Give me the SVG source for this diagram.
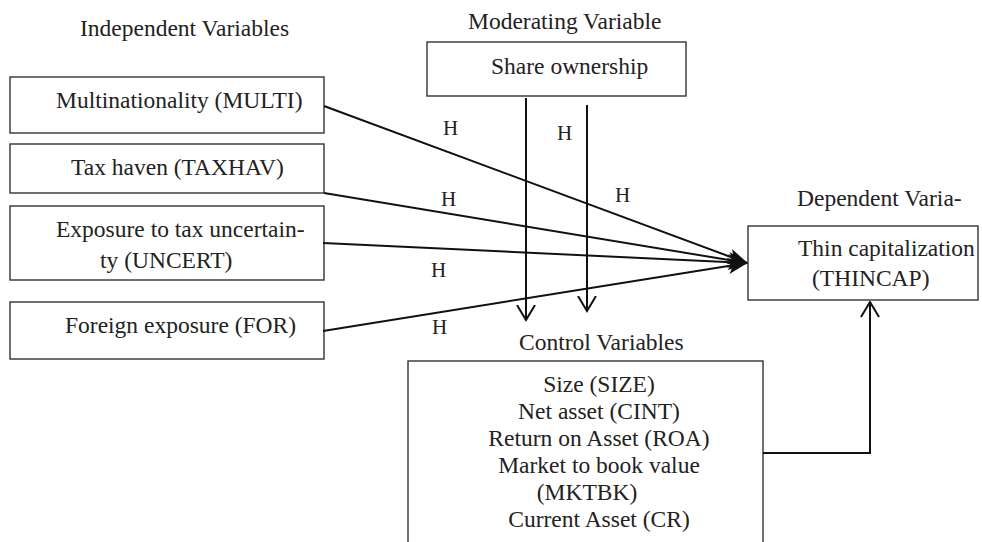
<svg xmlns="http://www.w3.org/2000/svg" width="982" height="542" viewBox="0 0 982 542">
<style>
text{font-family:"Liberation Serif",serif;font-size:23.5px;fill:#222}
.h{font-size:21px}
.box{fill:#fff;stroke:#333;stroke-width:1.4}
.c{fill:none;stroke:#111;stroke-width:2}
.m{text-anchor:middle}
</style>
<defs>
<marker id="fill" viewBox="0 0 20 18" refX="19" refY="9" markerWidth="20" markerHeight="18" markerUnits="userSpaceOnUse" orient="auto">
<path d="M0,1 L20,9 L0,17 L5,9 z" fill="#111"/>
</marker>
<marker id="open" viewBox="0 0 17 20" refX="15.5" refY="10" markerWidth="17" markerHeight="20" markerUnits="userSpaceOnUse" orient="auto">
<path d="M0.5,1 L15.5,10 L0.5,19" fill="none" stroke="#111" stroke-width="2"/>
</marker>
</defs>
<rect width="982" height="542" fill="#fff"/>
<g font-family="Liberation Serif, serif">
<text x="80" y="36">Independent Variables</text>
<text x="468" y="29">Moderating Variable</text>
<text x="797" y="206">Dependent Varia-</text>
<text x="519" y="350">Control Variables</text>
<g id="multi"><rect class="box" x="10" y="77" width="314" height="56"/><text x="56" y="108">Multinationality (MULTI)</text></g>
<g id="taxhav"><rect class="box" x="10" y="144" width="314" height="49"/><text x="71" y="175">Tax haven (TAXHAV)</text></g>
<g id="uncert"><rect class="box" x="10" y="206" width="314" height="74"/><text x="56" y="237">Exposure to tax uncertain-</text><text x="100" y="268">ty (UNCERT)</text></g>
<g id="for"><rect class="box" x="10" y="302" width="314" height="57"/><text x="65" y="333">Foreign exposure (FOR)</text></g>
<g id="share"><rect class="box" x="427" y="42" width="259" height="54"/><text x="491" y="74">Share ownership</text></g>
<g id="thincap"><rect class="box" x="748" y="226" width="230" height="74"/><text x="798" y="256">Thin capitalization</text><text x="812" y="286">(THINCAP)</text></g>
<g id="control"><rect class="box" x="408" y="361" width="355" height="200"/>
<text class="m" x="599" y="392">Size (SIZE)</text>
<text class="m" x="599" y="419">Net asset (CINT)</text>
<text class="m" x="599" y="446">Return on Asset (ROA)</text>
<text class="m" x="599" y="473">Market to book value</text>
<text class="m" x="587" y="500">(MKTBK)</text>
<text class="m" x="599" y="527">Current Asset (CR)</text></g>
</g>
<g id="connectors">
<line class="c" x1="324" y1="106" x2="747" y2="263" marker-end="url(#fill)"/>
<line class="c" x1="324" y1="193" x2="747" y2="263" marker-end="url(#fill)"/>
<line class="c" x1="323" y1="243" x2="747" y2="263" marker-end="url(#fill)"/>
<line class="c" x1="323" y1="331" x2="747" y2="263" marker-end="url(#fill)"/>
<line class="c" x1="526" y1="98" x2="526" y2="320" marker-end="url(#open)"/>
<line class="c" x1="587" y1="105" x2="587" y2="311" marker-end="url(#open)"/>
<polyline class="c" points="763,453 870,453 870,302" marker-end="url(#open)"/>
</g>
<g id="labels" font-family="Liberation Serif, serif">
<text class="h" x="443" y="135">H</text>
<text class="h" x="557" y="140">H</text>
<text class="h" x="615" y="202">H</text>
<text class="h" x="441" y="206">H</text>
<text class="h" x="431" y="277">H</text>
<text class="h" x="432" y="334">H</text>
</g>
</svg>
